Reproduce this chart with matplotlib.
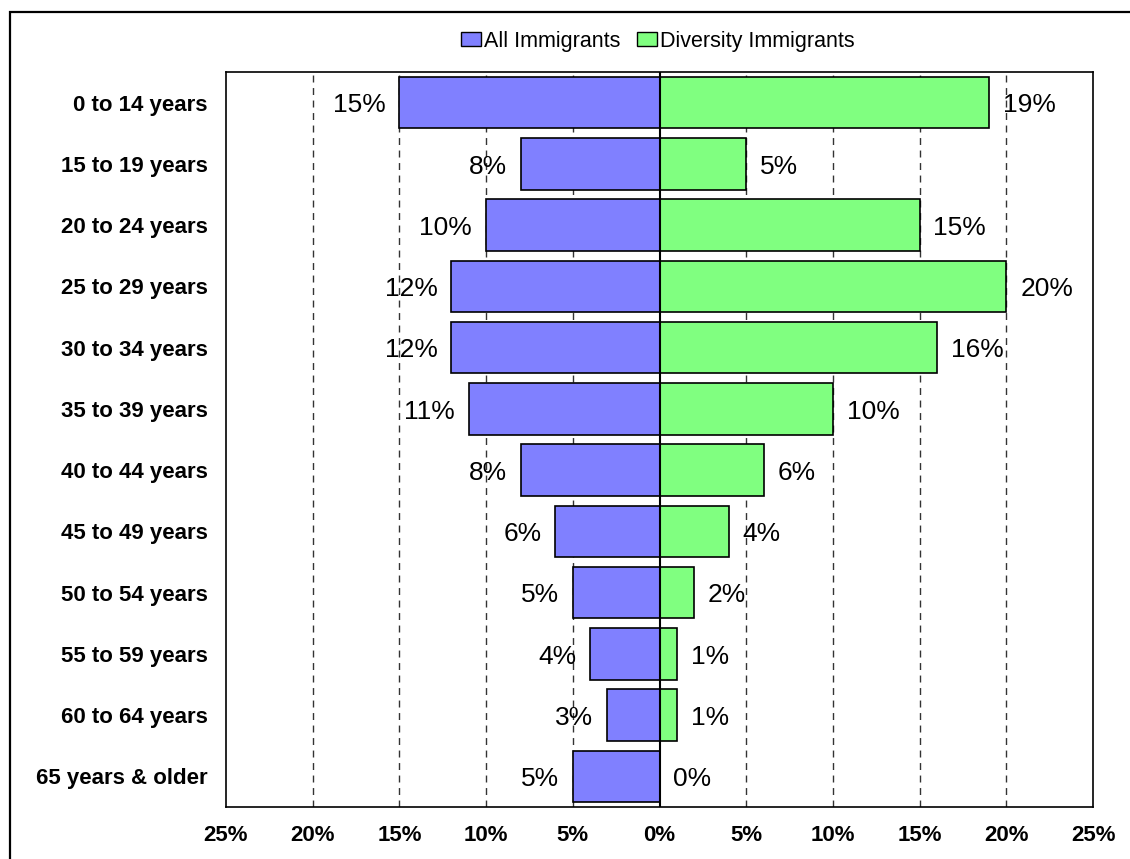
import matplotlib
matplotlib.use("Agg")
import matplotlib.pyplot as plt
from matplotlib.patches import Rectangle, Patch

plt.rcParams['font.family'] = ['Liberation Sans', 'DejaVu Sans']

# data
age_groups = ["0 to 14 years", "15 to 19 years", "20 to 24 years", "25 to 29 years",
              "30 to 34 years", "35 to 39 years", "40 to 44 years", "45 to 49 years",
              "50 to 54 years", "55 to 59 years", "60 to 64 years", "65 years & older"]
all_immigrants = [15, 8, 10, 12, 12, 11, 8, 6, 5, 4, 3, 5]
diversity_immigrants = [19, 5, 15, 20, 16, 10, 6, 4, 2, 1, 1, 0]
xtick_vals = [-25, -20, -15, -10, -5, 0, 5, 10, 15, 20, 25]

blue = "#8080FF"
green = "#80FF80"

fig = plt.figure(figsize=(11.3, 8.59), dpi=100)
ax = fig.add_axes([226/1130, 1-807/859, (1093-226)/1130, (807-72)/859])

# outer frame
fig.patches.append(Rectangle((10/1130, -0.05), 1.1, 1-12/859+0.05, transform=fig.transFigure,
                             fill=False, edgecolor="black", linewidth=1.6))

ypos = list(range(len(age_groups)))
neg = [-v for v in all_immigrants]

for x in xtick_vals:
    if x in (-25, 0, 25):
        continue
    ax.axvline(x, color="#333333", linewidth=1.0, linestyle=(0, (5, 4)), zorder=0)

ax.barh(ypos, neg, height=0.84, color=blue, edgecolor="black", linewidth=1.2, zorder=2)
ax.barh(ypos, diversity_immigrants, height=0.84, color=green, edgecolor="black", linewidth=1.2, zorder=2)
ax.axvline(0, color="black", linewidth=1.5, zorder=3)

for y, v in zip(ypos, all_immigrants):
    ax.annotate("%d%%" % v, xy=(-v, y), xytext=(-10, -2), textcoords="offset points",
                ha="right", va="center", fontsize=19, zorder=4)
for y, v in zip(ypos, diversity_immigrants):
    ax.annotate("%d%%" % v, xy=(v, y), xytext=(10, -2), textcoords="offset points",
                ha="left", va="center", fontsize=19, zorder=4)

ax.set_xlim(-25, 25)
ax.set_ylim(len(age_groups) - 0.5, -0.5)
ax.set_xticks(xtick_vals)
ax.set_xticklabels(["%d%%" % abs(x) for x in xtick_vals], fontsize=16, fontweight="bold")
ax.set_yticks(ypos)
ax.set_yticklabels(age_groups, fontsize=16, fontweight="bold")
ax.tick_params(axis="both", length=0)
ax.tick_params(axis="x", pad=13)
ax.tick_params(axis="y", pad=13)
for s in ax.spines.values():
    s.set_linewidth(1.2)

handles = [Patch(facecolor=blue, edgecolor="black", label="All Immigrants"),
           Patch(facecolor=green, edgecolor="black", label="Diversity Immigrants")]
fig.legend(handles=handles, loc="center", bbox_to_anchor=(658/1130, 1-41/859), ncol=2,
           frameon=False, fontsize=15.5, handlelength=0.93, handleheight=0.6,
           handletextpad=0.14, columnspacing=0.75)

fig.savefig("out.png", dpi=100)
